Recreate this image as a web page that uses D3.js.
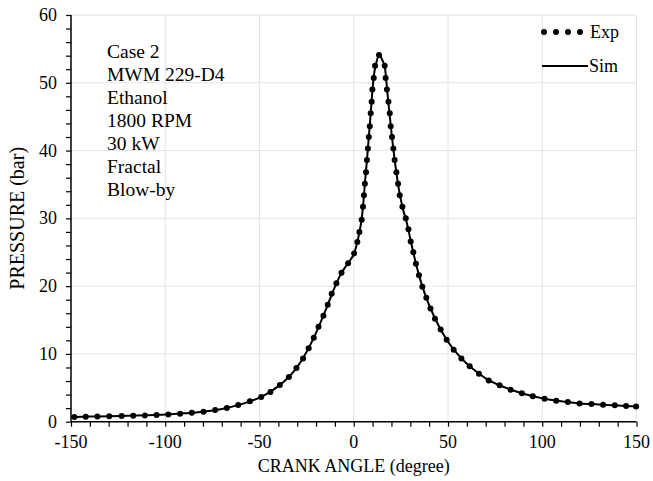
<!DOCTYPE html>
<html>
<head>
<meta charset="utf-8">
<script src="https://cdn.jsdelivr.net/npm/d3@7"></script>
<style>
  body { margin: 0; background: #fff; }
  text { font-family: 'Liberation Serif', 'Times New Roman', serif; fill: #000; }
</style>
</head>
<body>
<div id="chart"></div>
<script>
// experimental points (crank angle deg, pressure bar)
const expAngle = [-148.2, -142.2, -136.0, -129.7, -123.1, -117.0, -110.8, -104.6, -98.4, -92.1, -85.9, -79.7, -73.5, -67.3, -61.3, -55.1, -49.1,
  -44.2, -39.2, -34.4, -30.4, -26.9, -23.9, -21.2, -18.7, -16.1, -13.8, -11.7, -9.2, -6.5, -3.0, 0.2, 1.9,
  3.0, 4.2, 4.9, 5.4, 5.9, 6.5, 7.0, 7.5, 8.0, 8.5, 9.0, 9.5, 9.9, 10.6, 11.3, 13.4,
  16.4, 16.9, 17.6, 18.4, 19.1, 19.6, 20.3, 21.0, 21.7, 22.6, 23.5, 24.4, 25.8, 27.6, 29.0, 30.2, 31.6, 33.0, 34.6, 36.4, 38.5, 40.7, 43.1, 46.1, 49.3,
  53.0, 57.1, 61.5, 66.4, 71.6, 77.4, 83.2, 89.2, 95.0, 101.2, 107.4, 113.6, 119.8, 126.1, 132.3, 138.5, 144.5, 149.8]
const expPressure = [0.69, 0.74, 0.76, 0.79, 0.84, 0.89, 0.93, 0.99, 1.08, 1.18, 1.33, 1.48, 1.73, 2.02, 2.46, 3.0, 3.65,
  4.39, 5.42, 6.60, 7.93, 9.31, 10.83, 12.37, 13.99, 15.62, 17.24, 18.87, 20.44, 21.97, 23.39, 24.83, 26.5,
  28.0, 29.8, 31.7, 33.4, 35.1, 36.8, 38.6, 40.3, 42.0, 43.6, 45.5, 47.2, 49.0, 50.7, 52.5, 54.1,
  52.5, 50.7, 49.0, 47.2, 45.5, 43.6, 42.0, 40.3, 38.6, 36.8, 35.1, 33.4, 31.7, 30.0, 28.4, 26.6, 25.0, 23.3, 21.6, 19.9, 18.3, 16.7, 15.2, 13.6, 12.1,
  10.6, 9.31, 8.17, 7.09, 6.08, 5.37, 4.73, 4.19, 3.74, 3.40, 3.10, 2.91, 2.70, 2.61, 2.51, 2.41, 2.32, 2.26]

// simulation curve
const simAngle = [-150, -140, -130, -120, -110, -100, -90, -80, -70, -60, -50, -45, -40, -35, -30, -25, -20, -15, -10, -7, -4, -2, 0, 2, 3, 4, 5, 6, 7, 8, 9, 10, 11, 12, 13.5,
  15, 16.5, 18, 20, 22, 24, 26, 28, 30, 33, 36, 40, 45, 50, 55, 60, 65, 70, 80, 90, 100, 110, 120, 130, 140, 150]
const simPressure = [0.68, 0.75, 0.79, 0.86, 0.94, 1.05, 1.23, 1.47, 1.88, 2.55, 3.55, 4.3, 5.25, 6.45, 8.05, 10.3, 13.1, 16.4, 19.9, 21.7, 23.0, 23.8, 24.7, 26.6, 28.0, 29.5, 32.0, 35.4, 38.6, 42.0, 45.5, 49.2, 51.7, 53.0, 54.1,
  53.4, 52.3, 48.1, 42.7, 38.0, 34.2, 31.5, 29.5, 27.0, 23.3, 20.3, 17.2, 14.2, 11.8, 10.0, 8.55, 7.4, 6.4, 5.08, 4.13, 3.46, 3.02, 2.70, 2.55, 2.39, 2.26]

const xTicks = [-150, -100, -50, 0, 50, 100, 150]
const yTicks = [0, 10, 20, 30, 40, 50, 60]
const infoLines = ['Case 2', 'MWM 229-D4', 'Ethanol', '1800 RPM', '30 kW', 'Fractal', 'Blow-by']

const margin = { top: 15, left: 71, right: 16.5, bottom: 59.3 }
const W = 653
const H = 481
const width = W - margin.left - margin.right
const height = H - margin.top - margin.bottom

const svg = d3
  .select('#chart')
  .append('svg')
  .attr('width', W)
  .attr('height', H)

const g = svg
  .append('g')
  .attr('transform', 'translate(' + margin.left + ',' + margin.top + ')')

const x = d3.scaleLinear().domain([-150, 150]).range([0, width])
const y = d3.scaleLinear().domain([0, 60]).range([height, 0])

// grid
g.append('g')
  .selectAll('line')
  .data(xTicks.slice(1))
  .enter()
  .append('line')
  .attr('x1', d => x(d))
  .attr('x2', d => x(d))
  .attr('y1', 0)
  .attr('y2', height)
  .attr('stroke', '#e4e4e4')
  .attr('stroke-width', 1)

g.append('g')
  .selectAll('line')
  .data(yTicks.slice(1))
  .enter()
  .append('line')
  .attr('x1', 0)
  .attr('x2', width)
  .attr('y1', d => y(d))
  .attr('y2', d => y(d))
  .attr('stroke', '#e4e4e4')
  .attr('stroke-width', 1)

// minor ticks
const xMinor = d3.range(-150, 151, 10)
const yMinor = d3.range(0, 61, 2)

const xAxis = g
  .append('g')
  .attr('transform', 'translate(0,' + height + ')')
  .call(d3.axisBottom(x).tickValues(xMinor).tickSize(5).tickFormat(''))
xAxis.select('.domain').remove()
xAxis.selectAll('line').attr('stroke', '#000').attr('stroke-width', 1.2)

const yAxis = g
  .append('g')
  .call(d3.axisLeft(y).tickValues(yMinor).tickSize(5).tickFormat(''))
yAxis.select('.domain').remove()
yAxis.selectAll('line').attr('stroke', '#000').attr('stroke-width', 1.2)

// axis lines
g.append('line')
  .attr('x1', 0).attr('x2', width)
  .attr('y1', height).attr('y2', height)
  .attr('stroke', '#000').attr('stroke-width', 1.5)
g.append('line')
  .attr('x1', 0).attr('x2', 0)
  .attr('y1', 0).attr('y2', height)
  .attr('stroke', '#000').attr('stroke-width', 1.5)

// tick labels
g.append('g')
  .selectAll('text')
  .data(xTicks)
  .enter()
  .append('text')
  .attr('x', d => x(d))
  .attr('y', height + 26)
  .attr('text-anchor', 'middle')
  .style('font-size', '18px')
  .text(d => d)

g.append('g')
  .selectAll('text')
  .data(yTicks)
  .enter()
  .append('text')
  .attr('x', -14)
  .attr('y', d => y(d) + 6)
  .attr('text-anchor', 'end')
  .style('font-size', '18px')
  .text(d => d)

// axis titles
svg.append('text')
  .attr('x', margin.left + width / 2)
  .attr('y', 472)
  .attr('text-anchor', 'middle')
  .style('font-size', '18px')
  .text('CRANK ANGLE (degree)')

svg.append('text')
  .attr('transform', 'translate(24,' + (margin.top + height / 2) + ') rotate(-90)')
  .attr('text-anchor', 'middle')
  .style('font-size', '20px')
  .text('PRESSURE (bar)')

// simulation line
const simData = simAngle.map((a, i) => ({ a: a, p: simPressure[i] }))
const line = d3
  .line()
  .x(d => x(d.a))
  .y(d => y(d.p))
  .curve(d3.curveMonotoneX)

g.append('path')
  .datum(simData)
  .attr('d', line)
  .attr('fill', 'none')
  .attr('stroke', '#000')
  .attr('stroke-width', 2)

// experimental dots
const expData = expAngle.map((a, i) => ({ a: a, p: expPressure[i] }))
g.append('g')
  .selectAll('circle')
  .data(expData)
  .enter()
  .append('circle')
  .attr('cx', d => x(d.a))
  .attr('cy', d => y(d.p))
  .attr('r', 3)
  .attr('fill', '#000')

// info text
svg.append('g')
  .selectAll('text')
  .data(infoLines)
  .enter()
  .append('text')
  .attr('x', 107)
  .attr('y', (d, i) => 58 + i * 23)
  .style('font-size', '19.5px')
  .text(d => d)

// legend
const legend = svg.append('g')
legend.selectAll('circle')
  .data([544, 556, 568, 580])
  .enter()
  .append('circle')
  .attr('cx', d => d)
  .attr('cy', 32)
  .attr('r', 3)
  .attr('fill', '#000')
legend.append('text')
  .attr('x', 590)
  .attr('y', 38)
  .style('font-size', '18px')
  .text('Exp')
legend.append('line')
  .attr('x1', 542).attr('x2', 588)
  .attr('y1', 66).attr('y2', 66)
  .attr('stroke', '#000').attr('stroke-width', 2)
legend.append('text')
  .attr('x', 589)
  .attr('y', 72)
  .style('font-size', '18px')
  .text('Sim')
</script>
</body>
</html>
